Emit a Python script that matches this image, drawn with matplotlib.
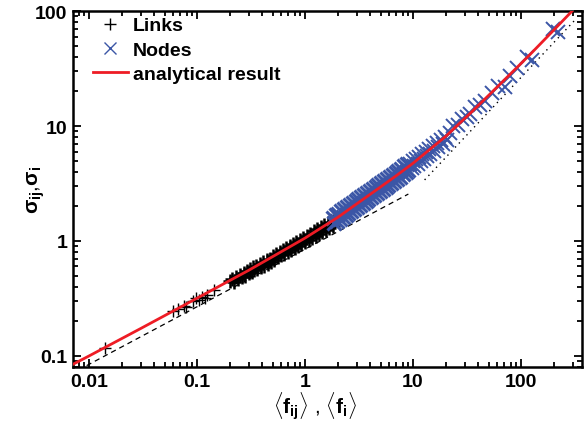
import numpy as np
import matplotlib

matplotlib.use("Agg")
import matplotlib.pyplot as plt
from matplotlib.lines import Line2D
from matplotlib.ticker import LogLocator, FuncFormatter, NullFormatter

plt.rcParams["font.family"] = ["Liberation Sans", "DejaVu Sans"]
plt.rcParams["font.weight"] = "bold"
plt.rcParams["mathtext.fontset"] = "custom"
plt.rcParams["mathtext.rm"] = "Liberation Sans:bold"
plt.rcParams["mathtext.it"] = "Liberation Sans:bold"
plt.rcParams["mathtext.bf"] = "Liberation Sans:bold"

# --- links: mean flow <f_ij> and its standard deviation sigma_ij ---
link_f = [0.0139, 0.060, 0.066, 0.075, 0.079, 0.092, 0.098, 0.104, 0.110,
          0.118, 0.124, 0.142,
          0.20, 0.21, 0.22, 0.23, 0.24, 0.25, 0.26, 0.27, 0.28, 0.29,
          0.30, 0.31, 0.32, 0.33, 0.34, 0.35, 0.36, 0.38, 0.39, 0.41,
          0.42, 0.44, 0.45, 0.47, 0.48, 0.50, 0.52, 0.54, 0.56, 0.58,
          0.60, 0.62, 0.64, 0.67, 0.69, 0.72, 0.74, 0.77, 0.80, 0.83,
          0.86, 0.89, 0.92, 0.96, 1.00, 1.04, 1.08, 1.12, 1.16, 1.21,
          1.25, 1.30, 1.35, 1.40, 1.45, 1.51, 1.56, 1.62, 1.68, 1.74,
          1.80, 1.86]
link_sigma = [0.117, 0.247, 0.255, 0.273, 0.268, 0.300, 0.318, 0.307, 0.328,
              0.320, 0.342, 0.372,
              0.45, 0.47, 0.44, 0.49, 0.47, 0.51, 0.49, 0.53, 0.50, 0.55,
              0.53, 0.57, 0.54, 0.59, 0.56, 0.61, 0.57, 0.63, 0.59, 0.65,
              0.61, 0.68, 0.63, 0.70, 0.65, 0.74, 0.69, 0.77, 0.72, 0.80,
              0.75, 0.83, 0.77, 0.87, 0.80, 0.90, 0.83, 0.94, 0.87, 0.98,
              0.90, 1.02, 0.94, 1.07, 0.98, 1.11, 1.02, 1.16, 1.06, 1.21,
              1.11, 1.26, 1.16, 1.31, 1.20, 1.37, 1.25, 1.42, 1.30, 1.47,
              1.35, 1.50]

# --- nodes: mean flow <f_i> and its standard deviation sigma_i ---
node_f = [1.80, 1.86, 1.92, 1.98, 2.04, 2.10, 2.17, 2.24, 2.31, 2.38,
          2.45, 2.52, 2.60, 2.68, 2.76, 2.85, 2.94, 3.03, 3.12, 3.22,
          3.32, 3.42, 3.53, 3.64, 3.75, 3.86, 3.98, 4.10, 4.23, 4.36,
          4.50, 4.64, 4.78, 4.93, 5.08, 5.24, 5.40, 5.57, 5.74, 5.92,
          6.10, 6.29, 6.48, 6.68, 6.89, 7.10, 7.32, 7.55, 7.78, 8.02,
          8.27, 8.53, 8.80, 9.07,
          9.4, 9.7, 10.0, 10.3, 10.7, 11.0, 11.4, 11.8, 12.2, 12.6,
          13.1, 13.5, 14.0, 14.5, 15.2, 15.8, 16.5, 17.2, 18.0, 18.8,
          19.8, 20.8, 21.8,
          23.6, 26.0, 28.2, 31.4, 33.5, 37.5, 41.7, 46.4, 53.6, 61.7,
          71.1, 79.1, 91.0, 113, 125, 198, 221]
node_sigma = [1.60, 1.42, 1.67, 1.48, 1.73, 1.54, 1.81, 1.61, 1.89, 1.67,
              1.96, 1.74, 2.04, 1.81, 2.12, 1.89, 2.22, 1.97, 2.31, 2.05,
              2.40, 2.13, 2.50, 2.22, 2.61, 2.31, 2.71, 2.40, 2.82, 2.50,
              2.94, 2.61, 3.06, 2.72, 3.19, 2.83, 3.32, 2.95, 3.46, 3.07,
              3.61, 3.20, 3.76, 3.33, 3.92, 3.48, 4.09, 3.63, 4.26, 3.79,
              4.45, 3.95, 4.65, 4.13,
              4.70, 4.35, 4.95, 4.45, 5.15, 4.70, 5.35, 4.95, 5.70, 5.15,
              5.95, 5.45, 6.25, 5.75, 6.65, 6.10, 7.05, 6.55, 7.55, 7.00,
              8.00, 7.60, 8.70,
              10.0, 10.3, 11.6, 12.0, 12.6, 14.5, 15.3, 16.6, 19.4, 22.2,
              21.8, 27.4, 32.0, 39.6, 37.5, 70.0, 66.0]

# --- analytical result ---
theory_f = [0.007, 0.01, 0.03, 0.1, 0.3, 0.5, 1, 2, 3, 5, 7, 10, 15, 20,
            35, 60, 120, 200, 300]
theory_sigma = [0.084, 0.10, 0.173, 0.318, 0.555, 0.73, 1.06, 1.6, 2.1,
                2.95, 3.7, 4.75, 6.5, 8.1, 13.3, 21.8, 41.5, 68, 101]

# --- guide lines: slope 1/2 (dashed) and slope 1 (dotted) ---
half_slope_f = [0.0095, 9.05]
half_slope_sigma = [0.0824, 2.56]
unit_slope_f = [12.8, 325]
unit_slope_sigma = [3.4, 86]

blue = "#3b56a6"
red = "#ee1c25"

# the dense parts of both clouds are drawn with heavier strokes
n_link_sparse = 12
n_node_dense = 54

fig = plt.figure(figsize=(5.84, 4.31), dpi=100)
ax = fig.add_axes([0.125, 0.146, 0.8716, 0.826])

ax.plot(half_slope_f, half_slope_sigma, color="black", lw=0.9,
        dashes=(4.2, 3.2), zorder=2)
ax.plot(unit_slope_f, unit_slope_sigma, color="black", lw=1.0,
        dashes=(1, 3.0), zorder=2)
ax.plot(link_f[:n_link_sparse], link_sigma[:n_link_sparse], ls="none",
        marker="+", ms=9, mew=1.0, color="black", zorder=3)
ax.plot(link_f[n_link_sparse:], link_sigma[n_link_sparse:], ls="none",
        marker="+", ms=10, mew=1.8, color="black", zorder=3)
ax.plot(node_f[:n_node_dense], node_sigma[:n_node_dense], ls="none",
        marker="x", ms=10, mew=2.2, color=blue, zorder=4)
ax.plot(node_f[n_node_dense:], node_sigma[n_node_dense:], ls="none",
        marker="x", ms=10, mew=1.4, color=blue, zorder=4)
ax.plot(theory_f, theory_sigma, color=red, lw=2.0, zorder=5)

ax.set_xscale("log")
ax.set_yscale("log")
ax.set_xlim(0.0071, 367)
ax.set_ylim(0.08, 100)

fmt = FuncFormatter(lambda v, pos: f"{v:g}")
for axis in (ax.xaxis, ax.yaxis):
    axis.set_major_locator(LogLocator(base=10))
    axis.set_minor_locator(LogLocator(base=10, subs=np.arange(2, 10)))
    axis.set_major_formatter(fmt)
    axis.set_minor_formatter(NullFormatter())

ax.tick_params(which="both", direction="in", top=True, right=True,
               width=1.3, labelsize=14)
ax.tick_params(which="major", length=6, pad=4)
ax.tick_params(which="minor", length=3.5)
for side in ax.spines.values():
    side.set_linewidth(1.8)

ax.set_xlabel(r"$\langle f_{ij}\rangle$ , $\langle f_{i}\rangle$", fontsize=15)
ax.set_ylabel(r"$\sigma_{ij}$,$\sigma_{i}$", fontsize=15)
ax.xaxis.set_label_coords(0.475, -0.063)
ax.yaxis.set_label_coords(-0.052, 0.5)

handles = [
    Line2D([], [], ls="none", marker="+", ms=8, mew=1.0, color="black"),
    Line2D([], [], ls="none", marker="x", ms=8, mew=1.0, color=blue),
    Line2D([], [], color=red, lw=2.0),
]
ax.legend(handles, ["Links", "Nodes", "analytical result"], loc="upper left",
          bbox_to_anchor=(0.039, 0.984), frameon=False, fontsize=14,
          handlelength=1.8, handletextpad=0.25, labelspacing=0.35,
          borderpad=0, borderaxespad=0)

fig.savefig("out.png", dpi=100)
